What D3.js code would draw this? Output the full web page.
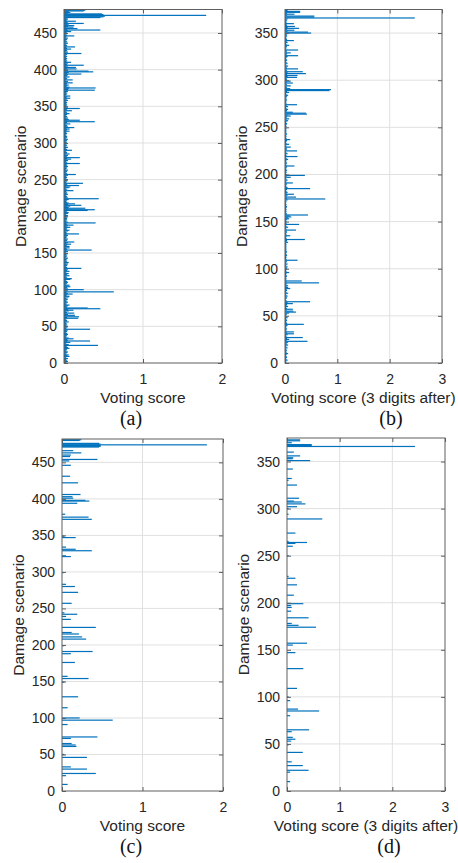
<!DOCTYPE html>
<html>
<head>
<meta charset="utf-8">
<script src="https://cdn.jsdelivr.net/npm/d3@7"></script>
<style>
  html, body { margin: 0; padding: 0; background: #fff; }
  svg { display: block; }
</style>
</head>
<body>
<svg id="fig" width="458" height="863"></svg>
<script>
// Voting score per damage scenario, full precision (scenarios 1..481)
const scoreA = [
  0.03,0.05,0.04,0.02,0.03,0.05,0.02,0.03,0.07,0.04,
  0.06,0.03,0.02,0.04,0.05,0.03,0.02,0.04,0.03,0.07,
  0.05,0.03,0.04,0.43,0.06,0.02,0.03,0.08,0.04,0.33,
  0.05,0.04,0.12,0.06,0.03,0.02,0.04,0.03,0.05,0.04,
  0.03,0.02,0.04,0.03,0.05,0.33,0.03,0.02,0.04,0.05,
  0.03,0.02,0.04,0.03,0.02,0.06,0.03,0.04,0.02,0.03,
  0.18,0.04,0.19,0.03,0.14,0.05,0.03,0.13,0.04,0.02,
  0.06,0.12,0.05,0.46,0.30,0.04,0.03,0.05,0.07,0.03,
  0.02,0.04,0.05,0.03,0.02,0.04,0.05,0.03,0.02,0.06,
  0.07,0.03,0.04,0.11,0.05,0.03,0.63,0.04,0.02,0.25,
  0.05,0.03,0.04,0.08,0.03,0.07,0.02,0.04,0.03,0.05,
  0.04,0.02,0.03,0.08,0.10,0.03,0.04,0.02,0.07,0.03,
  0.04,0.06,0.03,0.02,0.07,0.04,0.03,0.05,0.22,0.04,
  0.03,0.02,0.04,0.03,0.05,0.02,0.06,0.03,0.04,0.02,
  0.03,0.04,0.05,0.02,0.03,0.04,0.02,0.03,0.05,0.03,
  0.02,0.05,0.03,0.35,0.04,0.03,0.07,0.02,0.07,0.03,
  0.04,0.09,0.03,0.05,0.13,0.02,0.04,0.03,0.05,0.02,
  0.03,0.04,0.02,0.05,0.03,0.19,0.04,0.03,0.02,0.05,
  0.07,0.03,0.04,0.02,0.08,0.03,0.05,0.12,0.04,0.03,
  0.40,0.05,0.03,0.02,0.04,0.03,0.04,0.02,0.04,0.03,
  0.05,0.03,0.02,0.05,0.06,0.04,0.03,0.30,0.39,0.05,
  0.27,0.06,0.04,0.08,0.22,0.05,0.14,0.06,0.04,0.03,
  0.02,0.04,0.06,0.44,0.05,0.03,0.04,0.02,0.03,0.05,
  0.03,0.04,0.02,0.03,0.12,0.04,0.03,0.02,0.06,0.08,
  0.03,0.19,0.04,0.04,0.24,0.03,0.02,0.04,0.03,0.05,
  0.03,0.02,0.04,0.03,0.02,0.05,0.15,0.04,0.03,0.02,
  0.04,0.03,0.05,0.02,0.03,0.04,0.02,0.05,0.03,0.04,
  0.03,0.20,0.04,0.02,0.03,0.05,0.03,0.09,0.04,0.20,
  0.04,0.03,0.05,0.02,0.07,0.03,0.04,0.02,0.03,0.10,
  0.04,0.02,0.03,0.05,0.02,0.03,0.04,0.02,0.03,0.04,
  0.03,0.02,0.04,0.03,0.05,0.02,0.03,0.04,0.04,0.02,
  0.03,0.02,0.04,0.03,0.02,0.07,0.03,0.04,0.07,0.03,
  0.13,0.05,0.03,0.04,0.02,0.08,0.03,0.04,0.39,0.04,
  0.20,0.06,0.03,0.05,0.02,0.04,0.03,0.02,0.04,0.07,
  0.03,0.04,0.02,0.10,0.03,0.04,0.20,0.03,0.05,0.02,
  0.03,0.04,0.02,0.03,0.04,0.02,0.03,0.05,0.02,0.04,
  0.08,0.03,0.04,0.08,0.02,0.03,0.04,0.02,0.03,0.05,
  0.04,0.39,0.05,0.06,0.40,0.07,0.03,0.04,0.06,0.03,
  0.04,0.11,0.03,0.05,0.02,0.11,0.03,0.04,0.02,0.07,
  0.03,0.04,0.05,0.22,0.04,0.06,0.37,0.31,0.05,0.03,
  0.16,0.04,0.15,0.03,0.05,0.25,0.04,0.03,0.05,0.09,
  0.03,0.04,0.02,0.03,0.04,0.02,0.03,0.04,0.02,0.03,
  0.04,0.22,0.03,0.05,0.02,0.04,0.03,0.09,0.04,0.03,
  0.14,0.03,0.04,0.02,0.03,0.05,0.02,0.04,0.03,0.02,
  0.04,0.03,0.05,0.02,0.03,0.13,0.04,0.02,0.03,0.04,
  0.03,0.09,0.05,0.46,0.04,0.17,0.03,0.12,0.05,0.13,
  0.04,0.06,0.25,0.04,0.05,0.15,0.03,0.04,0.05,0.03,
  0.46,0.50,0.52,1.80,0.50,0.48,0.05,0.08,0.06,0.25,
  0.27
];

// Voting score kept to 3 digits after the decimal point (scenarios 1..374)
const scoreB = [
  0.03,0.02,0.05,0.03,0.02,0.04,0.03,0.02,0.03,0.06,
  0.03,0.02,0.04,0.03,0.02,0.05,0.03,0.02,0.06,0.04,
  0.03,0.06,0.43,0.03,0.08,0.04,0.34,0.03,0.02,0.05,
  0.17,0.04,0.17,0.03,0.02,0.04,0.03,0.02,0.03,0.05,
  0.36,0.04,0.03,0.02,0.04,0.03,0.02,0.05,0.03,0.02,
  0.03,0.04,0.08,0.21,0.16,0.03,0.15,0.04,0.02,0.06,
  0.03,0.04,0.15,0.05,0.48,0.03,0.02,0.02,0.04,0.03,
  0.05,0.03,0.02,0.06,0.03,0.02,0.04,0.03,0.10,0.06,
  0.03,0.06,0.02,0.04,0.65,0.03,0.32,0.03,0.02,0.03,
  0.02,0.04,0.03,0.02,0.03,0.08,0.03,0.02,0.03,0.04,
  0.03,0.05,0.02,0.03,0.05,0.02,0.03,0.04,0.24,0.03,
  0.02,0.03,0.02,0.04,0.03,0.02,0.03,0.04,0.02,0.03,
  0.02,0.03,0.02,0.03,0.02,0.03,0.02,0.06,0.03,0.04,
  0.38,0.03,0.02,0.03,0.10,0.03,0.02,0.03,0.04,0.03,
  0.21,0.03,0.02,0.06,0.03,0.02,0.27,0.03,0.02,0.03,
  0.02,0.04,0.08,0.06,0.12,0.09,0.44,0.04,0.03,0.02,
  0.03,0.02,0.03,0.02,0.03,0.04,0.02,0.03,0.02,0.02,
  0.03,0.02,0.05,0.77,0.04,0.21,0.03,0.05,0.17,0.03,
  0.05,0.03,0.02,0.04,0.48,0.05,0.03,0.02,0.03,0.04,
  0.15,0.03,0.02,0.05,0.03,0.02,0.11,0.03,0.38,0.03,
  0.02,0.03,0.02,0.04,0.03,0.02,0.03,0.04,0.18,0.03,
  0.02,0.04,0.03,0.02,0.03,0.06,0.03,0.02,0.24,0.03,
  0.02,0.05,0.03,0.02,0.23,0.03,0.04,0.03,0.11,0.03,
  0.02,0.08,0.03,0.02,0.03,0.04,0.10,0.03,0.02,0.03,
  0.02,0.03,0.04,0.02,0.03,0.02,0.03,0.02,0.03,0.02,
  0.03,0.02,0.03,0.04,0.02,0.03,0.06,0.03,0.08,0.03,
  0.04,0.11,0.05,0.42,0.40,0.15,0.03,0.04,0.06,0.03,
  0.02,0.06,0.03,0.23,0.03,0.02,0.03,0.02,0.04,0.03,
  0.02,0.03,0.04,0.06,0.03,0.02,0.08,0.04,0.85,0.88,
  0.10,0.04,0.03,0.11,0.04,0.03,0.15,0.04,0.11,0.03,
  0.04,0.03,0.23,0.05,0.24,0.04,0.40,0.05,0.34,0.04,
  0.03,0.25,0.04,0.03,0.06,0.03,0.02,0.05,0.03,0.02,
  0.04,0.03,0.02,0.03,0.05,0.25,0.03,0.04,0.11,0.03,
  0.04,0.25,0.03,0.02,0.03,0.04,0.08,0.03,0.02,0.05,
  0.03,0.17,0.04,0.03,0.02,0.03,0.04,0.03,0.04,0.50,
  0.44,0.05,0.18,0.04,0.27,0.05,0.19,0.04,0.03,0.17,
  0.03,0.02,0.04,0.03,0.05,2.48,0.56,0.56,0.04,0.18,
  0.04,0.29,0.29,0.05
];

// Scenarios that keep a non-zero score after filtering, full precision
const scenarioC = [9,21,24,30,33,46,50,61,63,65,72,74,91,97,100,114,129,149,154,157,
  176,188,191,199,208,211,215,217,224,235,239,242,244,257,272,280,283,299,321,322,
  329,331,334,347,349,372,375,379,394,397,398,401,403,406,422,431,446,452,454,458,
  460,463,466,471,472,473,474,475,476,480,481];
const scoreC = [0.07,0.05,0.42,0.31,0.11,0.31,0.03,0.18,0.17,0.12,0.11,0.44,0.07,0.63,0.22,0.07,0.20,0.03,0.33,0.07,
  0.16,0.11,0.38,0.03,0.30,0.25,0.21,0.12,0.42,0.11,0.05,0.19,0.03,0.12,0.20,0.16,0.05,0.02,0.11,0.05,
  0.37,0.17,0.05,0.17,0.03,0.37,0.33,0.04,0.19,0.34,0.29,0.14,0.13,0.23,0.20,0.10,0.11,0.09,0.44,0.10,
  0.11,0.24,0.14,0.46,0.48,0.48,1.80,0.48,0.46,0.22,0.24];

// Scenarios that keep a non-zero score after filtering, 3 digits after the point
const scenarioD = [10,20,22,27,31,41,49,53,55,57,63,65,80,85,87,96,100,109,130,147,
  155,157,174,176,178,184,191,195,197,199,208,219,226,228,250,260,263,264,265,274,
  289,294,300,302,305,307,308,311,325,330,332,342,351,353,354,356,360,366,367,368,
  370,372,373];
const scoreD = [0.06,0.06,0.41,0.30,0.09,0.30,0.03,0.08,0.16,0.11,0.09,0.42,0.06,0.61,0.21,0.06,0.03,0.19,0.31,0.16,
  0.11,0.38,0.55,0.22,0.09,0.41,0.08,0.09,0.08,0.31,0.13,0.19,0.16,0.03,0.03,0.11,0.16,0.38,0.03,0.16,
  0.67,0.03,0.03,0.19,0.35,0.28,0.13,0.23,0.19,0.03,0.09,0.11,0.44,0.11,0.12,0.25,0.13,2.43,0.47,0.47,
  0.09,0.25,0.25];

// Axis ticks and texts
const xTicksFull = [0, 1, 2];
const xTicksDigits = [0, 1, 2, 3];
const yTicksFull = [0, 50, 100, 150, 200, 250, 300, 350, 400, 450];
const yTicksDigits = [0, 50, 100, 150, 200, 250, 300, 350];
const xTitleFull = "Voting score";
const xTitleDigits = "Voting score (3 digits after)";
const yTitle = "Damage scenario";
const captions = ["(a)", "(b)", "(c)", "(d)"];

const seq = n => d3.range(1, n + 1);

// Layout of the four sub-plots
const panels = [
  { scen: seq(scoreA.length), vals: scoreA, yMax: 482, yTicks: yTicksFull, xMax: 2, xTicks: xTicksFull,
    left: 64, right: 222, top: 9.5, bottom: 363, xTitle: xTitleFull, yTitleX: 25.5, caption: captions[0], capX: 131 },
  { scen: seq(scoreB.length), vals: scoreB, yMax: 375, yTicks: yTicksDigits, xMax: 3, xTicks: xTicksDigits,
    left: 285, right: 442, top: 9.5, bottom: 363, xTitle: xTitleDigits, yTitleX: 246.5, caption: captions[1], capX: 391 },
  { scen: scenarioC, vals: scoreC, yMax: 482, yTicks: yTicksFull, xMax: 2, xTicks: xTicksFull,
    left: 62, right: 223, top: 439, bottom: 791, xTitle: xTitleFull, yTitleX: 24, caption: captions[2], capX: 131 },
  { scen: scenarioD, vals: scoreD, yMax: 375, yTicks: yTicksDigits, xMax: 3, xTicks: xTicksDigits,
    left: 287, right: 445, top: 438, bottom: 791, xTitle: xTitleDigits, yTitleX: 248.5, caption: captions[3], capX: 389 }
];

const BAR = "#0072BD";
const INK = "#262626";
const GRID = "#e0e0e0";
const FRAME = "#5e5e5e";
const SANS = "'Liberation Sans', Arial, Helvetica, sans-serif";
const SERIF = "'Liberation Serif', 'Times New Roman', serif";

const svg = d3.select("#fig");
svg.append("rect").attr("width", 458).attr("height", 863).attr("fill", "#fff");

panels.forEach(p => {
  const x = d3.scaleLinear().domain([0, p.xMax]).range([p.left, p.right]);
  const y = d3.scaleLinear().domain([0, p.yMax]).range([p.bottom, p.top]);
  const g = svg.append("g");

  // grid lines
  g.append("g").selectAll("line").data(p.xTicks.filter(t => t > 0 && t < p.xMax)).join("line")
    .attr("x1", d => x(d)).attr("x2", d => x(d)).attr("y1", p.top).attr("y2", p.bottom)
    .attr("stroke", GRID).attr("stroke-width", 1);
  g.append("g").selectAll("line").data(p.yTicks.filter(t => t > 0)).join("line")
    .attr("x1", p.left).attr("x2", p.right).attr("y1", d => y(d)).attr("y2", d => y(d))
    .attr("stroke", GRID).attr("stroke-width", 1);

  // horizontal bars, one per scenario
  const h = 1.2;
  g.append("g").attr("fill", BAR)
    .selectAll("rect").data(d3.zip(p.scen, p.vals)).join("rect")
    .attr("x", x(0))
    .attr("y", d => y(d[0]) - h / 2)
    .attr("width", d => Math.max(0, x(d[1]) - x(0)))
    .attr("height", h);

  // axes with inward ticks on all four sides
  const style = sel => {
    sel.select(".domain").remove();
    sel.selectAll(".tick line").attr("stroke", FRAME);
    sel.selectAll(".tick text").attr("fill", INK).attr("font-family", SANS).attr("font-size", 14);
  };
  g.append("g").attr("transform", `translate(0,${p.bottom})`)
    .call(d3.axisBottom(x).tickValues(p.xTicks).tickSize(-4).tickPadding(11).tickFormat(d3.format("d"))).call(style);
  g.append("g").attr("transform", `translate(0,${p.top})`)
    .call(d3.axisTop(x).tickValues(p.xTicks).tickSize(-4).tickFormat("")).call(style);
  g.append("g").attr("transform", `translate(${p.left},0)`)
    .call(d3.axisLeft(y).tickValues(p.yTicks).tickSize(-4).tickPadding(7).tickFormat(d3.format("d"))).call(style);
  g.append("g").attr("transform", `translate(${p.right},0)`)
    .call(d3.axisRight(y).tickValues(p.yTicks).tickSize(-4).tickFormat("")).call(style);

  // frame
  g.append("rect").attr("x", p.left).attr("y", p.top)
    .attr("width", p.right - p.left).attr("height", p.bottom - p.top)
    .attr("fill", "none").attr("stroke", FRAME).attr("stroke-width", 1);

  // titles and caption
  g.append("text").attr("x", (p.left + p.right) / 2).attr("y", p.bottom + 40)
    .attr("text-anchor", "middle").attr("font-family", SANS).attr("font-size", 15.5).attr("fill", INK)
    .text(p.xTitle);
  g.append("text")
    .attr("transform", `translate(${p.yTitleX},${(p.top + p.bottom) / 2}) rotate(-90)`)
    .attr("text-anchor", "middle").attr("font-family", SANS).attr("font-size", 15.5).attr("fill", INK)
    .text(yTitle);
  g.append("text").attr("x", p.capX).attr("y", p.bottom + 62)
    .attr("text-anchor", "middle").attr("font-family", SERIF).attr("font-size", 20).attr("fill", "#111")
    .text(p.caption);
});
</script>
</body>
</html>
